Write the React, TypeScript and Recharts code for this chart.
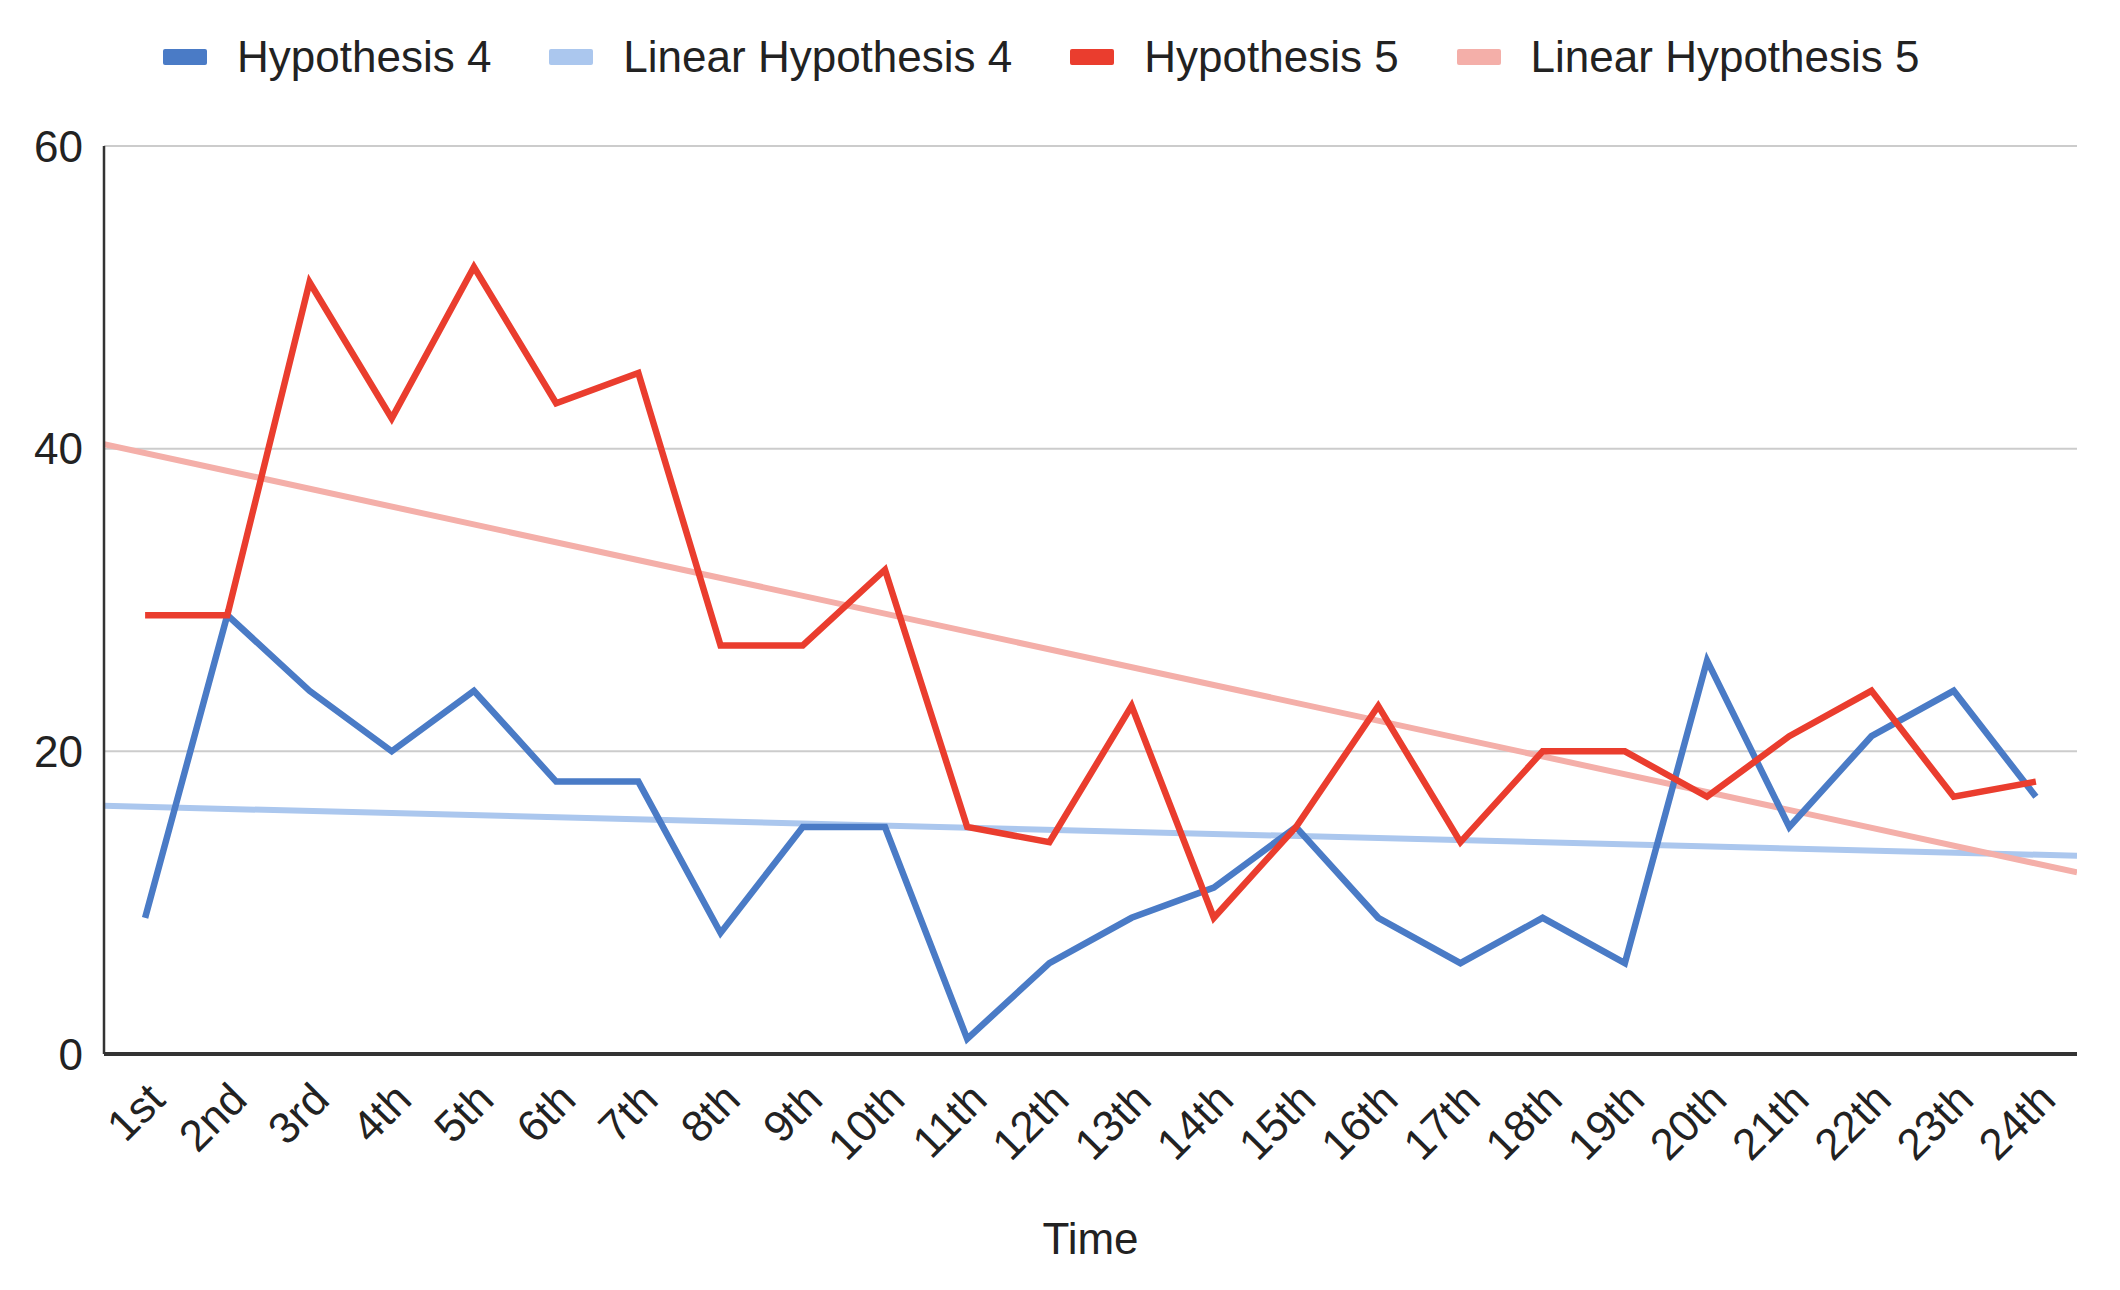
import React from 'react';
import { ComposedChart, Line, XAxis, YAxis, CartesianGrid, Legend } from 'recharts';

const categories = ['1st', '2nd', '3rd', '4th', '5th', '6th', '7th', '8th', '9th', '10th', '11th', '12th', '13th', '14th', '15th', '16th', '17th', '18th', '19th', '20th', '21th', '22th', '23th', '24th'];
const hypothesis4 = [9, 29, 24, 20, 24, 18, 18, 8, 15, 15, 1, 6, 9, 11, 15, 9, 6, 9, 6, 26, 15, 21, 24, 17];
const hypothesis5 = [29, 29, 51, 42, 52, 43, 45, 27, 27, 32, 15, 14, 23, 9, 15, 23, 14, 20, 20, 17, 21, 24, 17, 18];
// trend line values at the left and right edge of the plot
const linear4Ends = [16.4, 13.1];
const linear5Ends = [40.3, 12.0];
const yTicks = [0, 20, 40, 60];

const C_H4 = '#4a7bc6';
const C_L4 = '#abc7ee';
const C_H5 = '#ea3d2e';
const C_L5 = '#f4afa9';

const legendItems = [
  { name: 'Hypothesis 4', color: C_H4 },
  { name: 'Linear Hypothesis 4', color: C_L4 },
  { name: 'Hypothesis 5', color: C_H5 },
  { name: 'Linear Hypothesis 5', color: C_L5 },
];

const rows = categories.map((c, i) => ({ x: i + 0.5, cat: c, h4: hypothesis4[i], h5: hypothesis5[i] }));
const trend4 = [{ x: 0, v: linear4Ends[0] }, { x: categories.length, v: linear4Ends[1] }];
const trend5 = [{ x: 0, v: linear5Ends[0] }, { x: categories.length, v: linear5Ends[1] }];
const xTicks = categories.map((_, i) => i + 0.5);

const FONT = '"Liberation Sans", Arial, sans-serif';

const XTick = (props: any) => {
  const { x, y, payload } = props;
  const label = categories[Math.floor(payload.value)];
  const px = x + 22;
  const py = y + 48;
  return (
    <text x={px} y={py} transform={`rotate(-45 ${px} ${py})`} textAnchor="end" fontSize={44} fill="#222" fontFamily={FONT}>
      {label}
    </text>
  );
};

const LegendContent = () => (
  <div style={{ height: 146, width: 2120, position: 'relative', fontFamily: FONT }}>
    <div style={{ position: 'absolute', left: 163, top: 31, height: 52, display: 'flex', alignItems: 'center' }}>
      {legendItems.map((it, i) => (
        <div key={it.name} style={{ display: 'flex', alignItems: 'center', marginRight: i < legendItems.length - 1 ? 58 : 0 }}>
          <div style={{ width: 44, height: 16, background: it.color, borderRadius: 2, marginRight: 30 }} />
          <span style={{ fontSize: 44, color: '#222', lineHeight: '52px', whiteSpace: 'nowrap' }}>{it.name}</span>
        </div>
      ))}
    </div>
  </div>
);

export default function App() {
  return (
    <div style={{ position: 'absolute', left: 0, top: 0, width: 2120, height: 1290, background: '#fff', fontFamily: FONT }}>
      <ComposedChart width={2120} height={1290} data={rows} margin={{ top: 0, right: 43, bottom: 0, left: 0 }}>
        <Legend verticalAlign="top" align="left" content={<LegendContent />} wrapperStyle={{ left: 0, top: 0, width: 2120 }} />
        <CartesianGrid vertical={false} stroke="#cccccc" strokeWidth={2} />
        <XAxis
          dataKey="x"
          type="number"
          domain={[0, categories.length]}
          ticks={xTicks}
          interval={0}
          tick={<XTick />}
          tickLine={false}
          tickSize={0}
          tickMargin={0}
          height={236}
          axisLine={{ stroke: '#333', strokeWidth: 4 }}
          allowDataOverflow
          label={{ value: 'Time', position: 'insideBottom', offset: 36, fontSize: 44, fill: '#222', fontFamily: FONT }}
        />
        <YAxis
          type="number"
          domain={[0, 60]}
          ticks={yTicks}
          width={104}
          tickLine={false}
          tickSize={0}
          tickMargin={21}
          axisLine={{ stroke: '#333', strokeWidth: 2.5 }}
          tick={{ fontSize: 44, fill: '#222', fontFamily: FONT }}
        />
        <Line data={trend4} dataKey="v" stroke={C_L4} strokeWidth={6} dot={false} activeDot={false} isAnimationActive={false} legendType="none" />
        <Line data={trend5} dataKey="v" stroke={C_L5} strokeWidth={6} dot={false} activeDot={false} isAnimationActive={false} legendType="none" />
        <Line dataKey="h4" stroke={C_H4} strokeWidth={6.5} dot={false} activeDot={false} isAnimationActive={false} strokeLinejoin="miter" />
        <Line dataKey="h5" stroke={C_H5} strokeWidth={6.5} dot={false} activeDot={false} isAnimationActive={false} strokeLinejoin="miter" />
      </ComposedChart>
    </div>
  );
}
